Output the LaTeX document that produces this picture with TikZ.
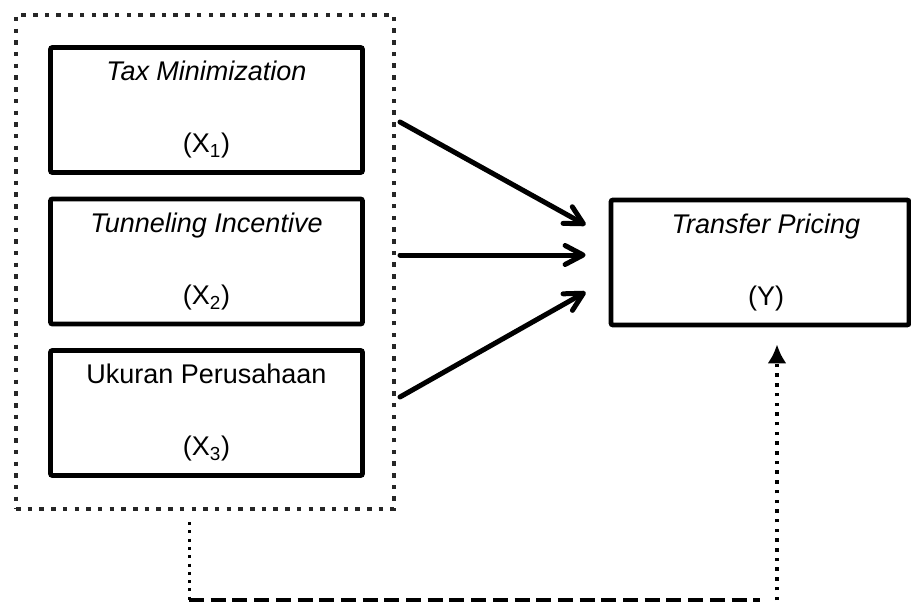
\documentclass[tikz,border=0pt]{standalone}
\usepackage{fontspec}
\setmainfont{Liberation Sans}
\usetikzlibrary{arrows.meta}
\begin{document}
\begin{tikzpicture}[x=1pt,y=-1pt,
  var/.style={draw, line width=4.8pt, rounded corners=2pt, minimum width=312pt,
    minimum height=125pt, inner sep=0pt, align=center,
    font=\fontsize{27}{72}\selectfont},
  grpbox/.style={draw=black!85, line width=4pt, dash pattern=on 4.5pt off 7.2pt,
    minimum width=378pt, minimum height=494pt, inner sep=0pt},
  arr/.style={line width=5pt, line cap=round,
    -{Straight Barb[length=18pt,width=19pt,round]}},
  dotline/.style={line width=3.5pt, dash pattern=on 3.5pt off 6.2pt},
  dashline/.style={line width=4pt, dash pattern=on 15pt off 6.7pt}]
\useasboundingbox (0,0) rectangle (911,602);

\node[grpbox] (grp) at (205,262) {};
\node[var] (x1) at (206.5,110) {\textit{Tax Minimization}\\(X\textsubscript{1})};
\node[var] (x2) at (206.5,261.5) {\textit{Tunneling Incentive}\\(X\textsubscript{2})};
\node[var] (x3) at (206.5,413) {Ukuran Perusahaan\\(X\textsubscript{3})};
\node[var, minimum width=298pt] (y) at (760,262.5)
  {\hspace*{12pt}\textit{Transfer Pricing}\\\hspace*{12pt}(Y)};

\draw[arr] ([xshift=4pt,yshift=140pt]grp.east) -- ([xshift=-23pt,yshift=37.5pt]y.west);
\draw[arr] ([xshift=4pt,yshift=7pt]grp.east) -- ([xshift=-23pt,yshift=7.5pt]y.west);
\draw[arr] ([xshift=4pt,yshift=-135pt]grp.east) -- ([xshift=-23pt,yshift=-29.5pt]y.west);

\coordinate (c1) at (189,600);
\coordinate (c2) at (777,600);
\draw[dotline, line width=3pt, dash pattern=on 3pt off 5.3pt] ([xshift=-16pt,yshift=-11pt]grp.south) -- (c1);
\draw[dashline] (c1) -- ([xshift=-17pt]c2);
\draw[dotline, -{Latex[length=19pt,width=19pt]}] (c2) -- ([yshift=-17pt]y.south -| c2);
\end{tikzpicture}
\end{document}
